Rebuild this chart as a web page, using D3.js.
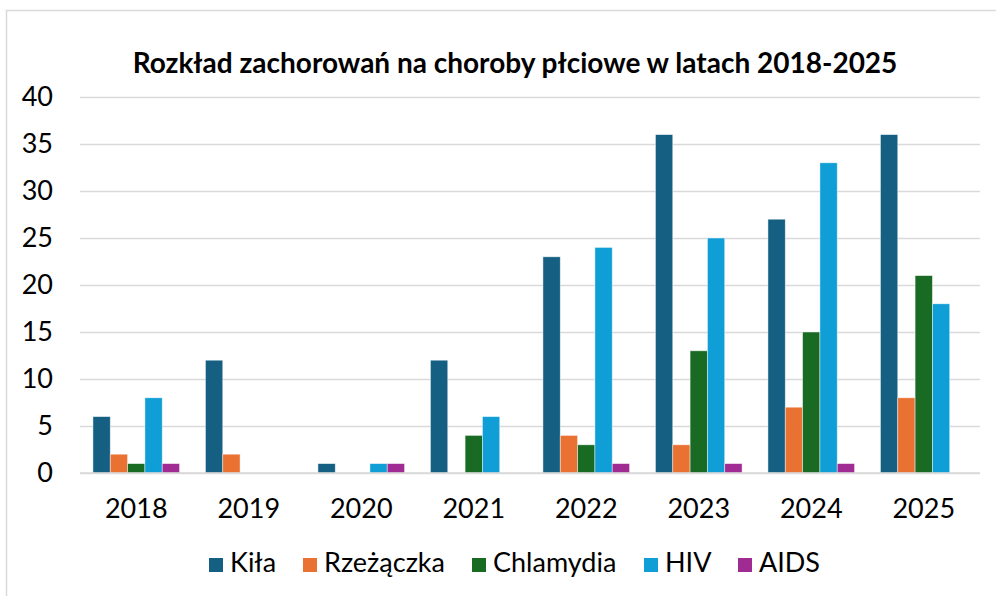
<!DOCTYPE html>
<html>
<head>
<meta charset="utf-8">
<script src="https://cdn.jsdelivr.net/npm/d3@7"></script>
<style>
  body { margin: 0; background: #fff; }
  text { font-family: Lato, "Open Sans", sans-serif; fill: #000; }
</style>
</head>
<body>
<svg id="chart" width="996" height="596"></svg>
<script>
// data
const years = ["2018", "2019", "2020", "2021", "2022", "2023", "2024", "2025"];
const seriesNames = ["Kiła", "Rzeżączka", "Chlamydia", "HIV", "AIDS"];
const kila      = [6, 12, 1, 12, 23, 36, 27, 36];
const rzezaczka = [2, 2, 0, 0, 4, 3, 7, 8];
const chlamydia = [1, 0, 0, 4, 3, 13, 15, 21];
const hiv       = [8, 0, 1, 6, 24, 25, 33, 18];
const aids      = [1, 0, 1, 0, 1, 1, 1, 0];
const yTicks = [0, 5, 10, 15, 20, 25, 30, 35, 40];
const colors = ["#156082", "#E97132", "#196B24", "#0F9ED5", "#A02B93"];

const allSeries = [kila, rzezaczka, chlamydia, hiv, aids];

const svg = d3.select("#chart");

// chart border
svg.append("rect")
  .attr("x", 6.5).attr("y", 10.5)
  .attr("width", 1000).attr("height", 600)
  .attr("fill", "none")
  .attr("stroke", "#d9d9d9")
  .attr("stroke-width", 1.5);

const plotLeft = 80, plotRight = 980, plotTop = 97, plotBottom = 473;

const x = d3.scaleBand().domain(years).range([plotLeft, plotRight])
  .paddingInner(0.23).paddingOuter(0.115);
const xs = d3.scaleBand().domain(seriesNames).range([0, x.bandwidth()]);
const y = d3.scaleLinear().domain([0, 40]).range([plotBottom, plotTop]);

// title
svg.append("text")
  .attr("x", 515).attr("y", 73)
  .attr("text-anchor", "middle")
  .attr("font-size", 28).attr("font-weight", "bold")
  .text("Rozkład zachorowań na choroby płciowe w latach 2018-2025");

// grid
const yAxis = svg.append("g")
  .attr("transform", `translate(${plotLeft},0)`)
  .call(d3.axisLeft(y).tickValues(yTicks).tickSize(-(plotRight - plotLeft)).tickPadding(27));
yAxis.select(".domain").remove();
yAxis.selectAll(".tick line").attr("stroke", "#d9d9d9").attr("stroke-width", 1.5);
yAxis.selectAll(".tick text")
  .attr("font-size", 27)
  .style("font-family", "Lato, sans-serif")
  .attr("fill", "#000");

// bars
const groups = svg.append("g").selectAll("g")
  .data(years)
  .join("g")
  .attr("transform", d => `translate(${x(d)},0)`);

groups.selectAll("rect")
  .data((yr, i) => seriesNames.map((s, j) => ({s, v: allSeries[j][i], c: colors[j]})).filter(d => d.v > 0))
  .join("rect")
  .attr("x", d => xs(d.s))
  .attr("width", xs.bandwidth())
  .attr("y", d => y(d.v))
  .attr("height", d => y(0) - y(d.v))
  .attr("fill", d => d.c)
  .attr("stroke", "#ffffff")
  .attr("stroke-opacity", 0.6)
  .attr("stroke-width", 0.75);

// x axis
const xAxis = svg.append("g")
  .attr("transform", `translate(0,${plotBottom})`)
  .call(d3.axisBottom(x).tickSize(0).tickPadding(26));
xAxis.select(".domain").attr("stroke", "#d9d9d9").attr("stroke-width", 1.5)
  .attr("d", `M${plotLeft},0H${plotRight}`);
xAxis.selectAll(".tick text")
  .attr("font-size", 27)
  .style("font-family", "Lato, sans-serif")
  .attr("fill", "#000");

// legend
const legendX = [209, 303, 472, 644, 738];
const legend = svg.append("g").selectAll("g")
  .data(seriesNames)
  .join("g")
  .attr("transform", (d, i) => `translate(${legendX[i]},572)`);
legend.append("rect")
  .attr("x", 0).attr("y", -14)
  .attr("width", 14).attr("height", 14)
  .attr("fill", (d, i) => colors[i]);
legend.append("text")
  .attr("x", 21).attr("y", 0)
  .attr("font-size", 27)
  .text(d => d);
</script>
</body>
</html>
